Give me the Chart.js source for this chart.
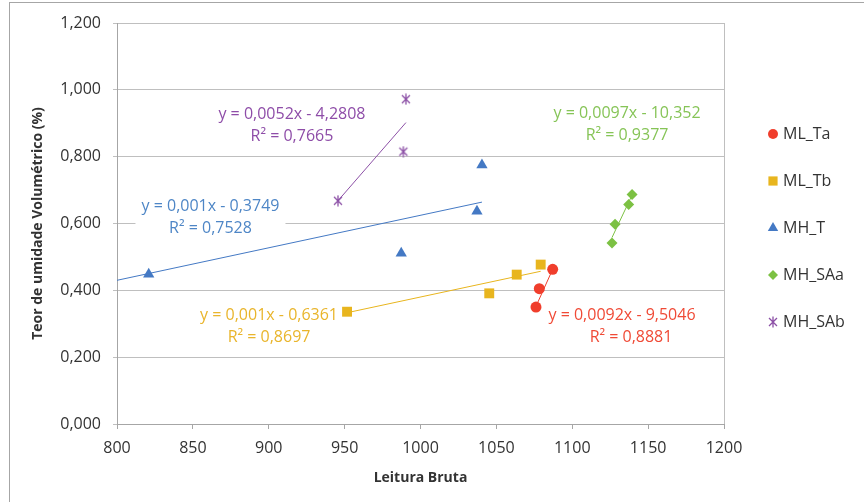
<!DOCTYPE html>
<html>
<head>
<meta charset="utf-8">
<script src="https://cdn.jsdelivr.net/npm/chart.js@4.4.1/dist/chart.umd.min.js"></script>
<style>
  html, body { margin: 0; padding: 0; background: #fff; overflow: hidden; }
  #frame { position: absolute; left: 9px; top: 2px; width: 1000px; height: 700px;
           border-left: 1px solid #a6a6a6; border-top: 1px solid #a6a6a6; }
  #wrap { position: absolute; left: 0; top: 0; width: 864px; height: 502px; }
</style>
</head>
<body>
<div id="frame"></div>
<div id="wrap"><canvas id="chart" width="864" height="502"></canvas></div>
<script>
// series (x = leitura bruta, y = teor de umidade)
const seriesNames = ["ML_Ta", "ML_Tb", "MH_T", "MH_SAa", "MH_SAb"];

const mlTaX = [1076.1, 1078.3, 1087.1];
const mlTaY = [0.350, 0.405, 0.463];
const mlTbX = [951.6, 1045.3, 1063.4, 1079.2];
const mlTbY = [0.336, 0.391, 0.447, 0.477];
const mhTX = [820.9, 987.3, 1037.2, 1040.5];
const mhTY = [0.448, 0.511, 0.637, 0.775];
const mhSAaX = [1126.2, 1128.2, 1137.2, 1139.4];
const mhSAaY = [0.542, 0.598, 0.657, 0.687];
const mhSAbX = [945.6, 988.7, 990.4];
const mhSAbY = [0.668, 0.815, 0.972];

// trendline end points (as drawn in the picture)
const trendTaX = [1076.1, 1087.1];
const trendTaY = [0.352, 0.463];
const trendTbX = [951.6, 1079.2];
const trendTbY = [0.333, 0.457];
const trendTX = [800, 1040.5];
const trendTY = [0.430, 0.664];
const trendSAaX = [1126.2, 1139.4];
const trendSAaY = [0.558, 0.685];
const trendSAbX = [945.6, 990.4];
const trendSAbY = [0.668, 0.902];

// trendline equations
const eqTexts = ["y = 0,0092x - 9,5046", "y = 0,001x - 0,6361", "y = 0,001x - 0,3749",
                 "y = 0,0097x - 10,352", "y = 0,0052x - 4,2808"];
const r2Texts = ["R² = 0,8881", "R² = 0,8697", "R² = 0,7528", "R² = 0,9377", "R² = 0,7665"];

const xTickMin = 800, xTickMax = 1200, xTickStep = 50;
const yTickMin = 0, yTickMax = 1.2, yTickStep = 0.2;

const RED = "#f03e2c", YELLOW = "#e8b51e", BLUE = "#4479c4", GREEN = "#7cc143", PURPLE = "#8c50a6";
const TEXT_COLORS = ["#f04a36", "#e9b52c", "#4e86c6", "#86c457", "#8e4da8"];

const pts = (xs, ys) => xs.map((x, i) => ({ x: x, y: ys[i] }));

const makeStar = (color) => {
    const c = document.createElement("canvas");
    c.width = 12;
    c.height = 12;
    const g = c.getContext("2d");
    g.strokeStyle = color;
    g.lineWidth = 1.3;
    g.beginPath();
    g.moveTo(2, 2); g.lineTo(10, 10);
    g.moveTo(10, 2); g.lineTo(2, 10);
    g.moveTo(6, 0.5); g.lineTo(6, 11.5);
    g.stroke();
    return c;
};
const starImg = makeStar(PURPLE);

const markers = [
    { style: "circle", radius: 5.5, color: RED },
    { style: "rect", radius: 7, color: YELLOW },
    { style: "triangle", radius: 6.5, color: BLUE },
    { style: "rectRot", radius: 5.5, color: GREEN },
    { style: starImg, radius: 6, color: PURPLE },
];

const pointSets = [pts(mlTaX, mlTaY), pts(mlTbX, mlTbY), pts(mhTX, mhTY), pts(mhSAaX, mhSAaY), pts(mhSAbX, mhSAbY)];
const trendSets = [pts(trendTaX, trendTaY), pts(trendTbX, trendTbY), pts(trendTX, trendTY),
                   pts(trendSAaX, trendSAaY), pts(trendSAbX, trendSAbY)];

const datasets = [];
pointSets.forEach((d, i) => {
    datasets.push({
        label: seriesNames[i],
        data: d,
        showLine: false,
        pointStyle: markers[i].style,
        pointRadius: markers[i].radius,
        pointBackgroundColor: markers[i].color,
        pointBorderColor: markers[i].color,
        pointBorderWidth: 0,
        order: 0,
    });
});
trendSets.forEach((d, i) => {
    datasets.push({
        label: "trend " + seriesNames[i],
        data: d,
        showLine: true,
        borderColor: markers[i].color,
        borderWidth: 1,
        pointRadius: 0,
        order: 1,
    });
});

// label anchors in data units (centre of first line)
const labelAnchors = [
    { x: 1132.8, y: 0.326, dx2: 9 },
    { x: 900.2, y: 0.326, dx2: 0 },
    { x: 861.6, y: 0.650, dx2: 0, box: true },
    { x: 1136.1, y: 0.928, dx2: 0 },
    { x: 915.3, y: 0.925, dx2: 0 },
];

const plotBorder = {
    id: "plotBorder",
    beforeDatasetsDraw(chart) {
        const { ctx, chartArea } = chart;
        ctx.save();
        ctx.strokeStyle = "#bfbfbf";
        ctx.lineWidth = 1;
        ctx.beginPath();
        ctx.moveTo(Math.round(chartArea.right) + 0.5, chartArea.top);
        ctx.lineTo(Math.round(chartArea.right) + 0.5, chartArea.bottom);
        ctx.stroke();
        ctx.restore();
    },
};

const trendLabels = {
    id: "trendLabels",
    afterDatasetsDraw(chart) {
        const { ctx, scales } = chart;
        ctx.save();
        ctx.font = "16px 'Open Sans'";
        ctx.textAlign = "center";
        ctx.textBaseline = "middle";
        labelAnchors.forEach((a, i) => {
            const px = scales.x.getPixelForValue(a.x);
            const py = scales.y.getPixelForValue(a.y);
            if (a.box) {
                ctx.fillStyle = "#fff";
                ctx.fillRect(px - 75, py - 13, 150, 47);
            }
            ctx.fillStyle = TEXT_COLORS[i];
            ctx.fillText(eqTexts[i], px, py);
            ctx.fillText(r2Texts[i], px + a.dx2, py + 22);
        });
        ctx.restore();
    },
};

const sideLegend = {
    id: "sideLegend",
    afterDraw(chart) {
        const { ctx } = chart;
        ctx.save();
        seriesNames.forEach((name, i) => {
            const y = 134 + 47 * i;
            const m = markers[i];
            ctx.fillStyle = m.color;
            ctx.strokeStyle = m.color;
            Chart.helpers.drawPoint(ctx, { pointStyle: m.style, radius: m.radius - 0.5, rotation: 0, borderWidth: 0 }, 773, y);
            ctx.fillStyle = "#333";
            ctx.font = "16px 'Open Sans'";
            ctx.textAlign = "left";
            ctx.textBaseline = "middle";
            ctx.fillText(name, 783, y);
        });
        ctx.restore();
    },
};

Chart.defaults.font.family = "'Open Sans', sans-serif";

const ctx = document.getElementById("chart").getContext("2d");
const chart = new Chart(ctx, {
    type: "scatter",
    data: { datasets: datasets },
    options: {
        responsive: false,
        animation: false,
        layout: { padding: { top: 23, right: 140, bottom: 0, left: 0 } },
        plugins: {
            legend: { display: false },
            tooltip: { enabled: false },
        },
        scales: {
            x: {
                type: "linear",
                min: xTickMin,
                max: xTickMax,
                ticks: {
                    stepSize: xTickStep,
                    color: "#333",
                    font: { size: 16 },
                    padding: 10,
                    maxRotation: 0,
                    autoSkip: false,
                    callback: (v) => String(v),
                },
                grid: { drawOnChartArea: false, drawTicks: true, tickLength: 5, color: "#a6a6a6" },
                border: { color: "#a6a6a6" },
                title: {
                    display: true,
                    text: "Leitura Bruta",
                    color: "#333",
                    font: { size: 14, weight: "bold" },
                    padding: { top: 0, bottom: 16 },
                },
                afterFit: (s) => { s.height = 78; },
            },
            y: {
                min: yTickMin,
                max: yTickMax,
                ticks: {
                    stepSize: yTickStep,
                    color: "#333",
                    font: { size: 16 },
                    padding: 12,
                    callback: (v) => v.toFixed(3).replace(".", ","),
                },
                grid: { color: "#bfbfbf", tickLength: 4 },
                border: { color: "#a6a6a6" },
                title: {
                    display: true,
                    text: "Teor de umidade Volumétrico (%)",
                    color: "#333",
                    font: { size: 14, weight: "bold" },
                    padding: { top: 30, bottom: 0 },
                },
                afterFit: (s) => { s.width = 117; },
            },
        },
    },
    plugins: [plotBorder, trendLabels, sideLegend],
});
</script>
</body>
</html>
